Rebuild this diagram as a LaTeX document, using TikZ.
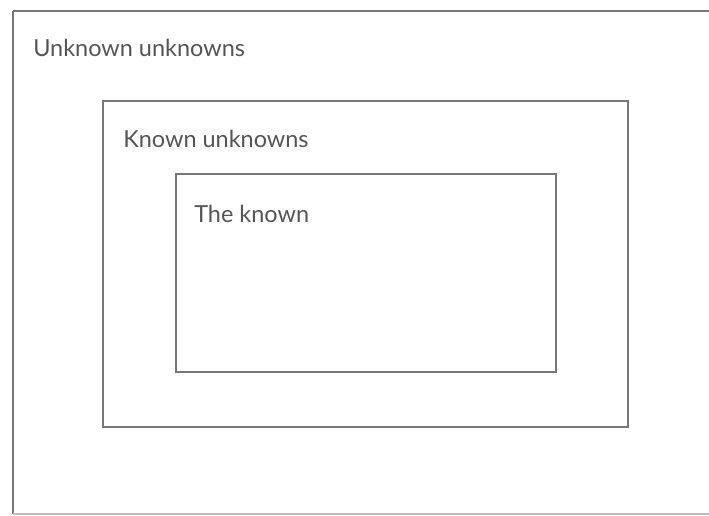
\documentclass[tikz,border=0pt]{standalone}
\usepackage{fontspec}
\setmainfont{Lato}
\definecolor{boxgray}{HTML}{777777}
\definecolor{txtgray}{HTML}{555555}
\begin{document}
\begin{tikzpicture}[x=0.75pt,y=-0.75pt,
  frame/.style={draw=boxgray,line width=2.2pt},
  lbl/.style={anchor=west,inner sep=0pt,text=txtgray,font=\fontsize{17.6pt}{20pt}\selectfont}]
\useasboundingbox (0,0) rectangle (709,516);
\fill[white] (0,0) rectangle (709,516);
\draw[frame] (13,11) -- (720,11);
\draw[frame] (13,11) -- (13,514);
\draw[draw=boxgray!50,line width=1.2pt] (13,514) -- (720,514);
\node[frame,minimum width=525*0.75pt,minimum height=326*0.75pt,inner sep=0pt] (mid) at (365.5,264) {};
\node[frame,minimum width=380*0.75pt,minimum height=198*0.75pt,inner sep=0pt] (inn) at (366,273) {};
\node[lbl] (t1) at (33,48) {Unknown unknowns};
\node[lbl] (t2) at (123,139) {Known unknowns};
\node[lbl] (t3) at (194,214) {The known};
\end{tikzpicture}
\end{document}
